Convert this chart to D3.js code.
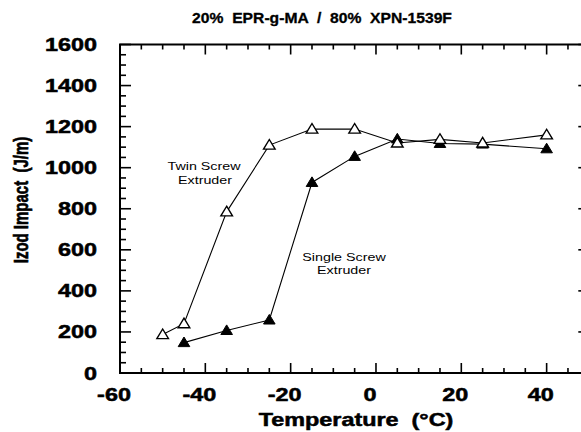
<!DOCTYPE html>
<html>
<head>
<meta charset="utf-8">
<script src="https://cdn.jsdelivr.net/npm/d3@7"></script>
<style>
  html, body { margin: 0; padding: 0; background: #fff; }
  svg { display: block; }
  text { font-family: "Liberation Sans", Arial, Helvetica, sans-serif; fill: #000; white-space: pre; }
  text.heavy { stroke: #000; stroke-width: 0.5; }
</style>
</head>
<body>
<svg id="chart" width="581" height="432"></svg>
<script>
// Izod impact strength vs. temperature for two extrusion routes
const twinTemps    = [-50, -45, -35, -25, -15, -5, 5, 15, 25, 40];
const twinImpact   = [187, 240, 785, 1110, 1188, 1188, 1120, 1138, 1120, 1160];
const singleTemps  = [-45, -35, -25, -15, -5, 5, 15, 25, 40];
const singleImpact = [148, 207, 258, 928, 1055, 1140, 1118, 1115, 1092];

const xMajorTicks = [-60, -40, -20, 0, 20, 40];
const yMajorTicks = [0, 200, 400, 600, 800, 1000, 1200, 1400, 1600];

const titleText  = "20%  EPR-g-MA  /  80%  XPN-1539F";
const xTitleText = "Temperature  (\u00B0C)";
const yTitleText = "Izod Impact  (J/m)";

const svg = d3.select("#chart");
const stretch = 1.3; // lettering is set wide

const plotL = 120, plotR = 589.3, plotT = 44.5, plotB = 373;
const x = d3.scaleLinear().domain([-60, 50]).range([plotL, plotR]);
const y = d3.scaleLinear().domain([0, 1600]).range([plotB, plotT]);

const xMinor = d3.range(-60, 50.001, 5).filter(v => v % 20 !== 0);
const yMinor = d3.range(0, 1600.001, 50).filter(v => v % 200 !== 0);

// frame
svg.append("rect")
  .attr("x", plotL).attr("y", plotT)
  .attr("width", plotR - plotL).attr("height", plotB - plotT)
  .attr("fill", "none").attr("stroke", "#000").attr("stroke-width", 2);

// inward ticks on all four sides
const tickG = svg.append("g").attr("stroke", "#000").attr("stroke-width", 1.6);
function vTicks(vals, len) {
  vals.forEach(v => {
    tickG.append("line").attr("x1", x(v)).attr("x2", x(v)).attr("y1", plotB).attr("y2", plotB - len);
    tickG.append("line").attr("x1", x(v)).attr("x2", x(v)).attr("y1", plotT).attr("y2", plotT + len);
  });
}
function hTicks(vals, len) {
  vals.forEach(v => {
    tickG.append("line").attr("y1", y(v)).attr("y2", y(v)).attr("x1", plotL).attr("x2", plotL + len);
    tickG.append("line").attr("y1", y(v)).attr("y2", y(v)).attr("x1", plotR).attr("x2", plotR - len);
  });
}
vTicks(xMajorTicks.concat([50]), 10);
vTicks(xMinor, 5);
hTicks(yMajorTicks, 11);
hTicks(yMinor, 6);

// horizontally stretched text helper
function wideText(tx, ty, str, size, anchor, weight, sx = stretch) {
  return svg.append("text")
    .attr("class", weight === "bold" ? "heavy" : null)
    .attr("transform", `translate(${tx},${ty}) scale(${sx},1)`)
    .attr("text-anchor", anchor)
    .attr("font-size", size)
    .attr("font-weight", weight)
    .text(str);
}

// tick labels
xMajorTicks.forEach(v => wideText(x(v) - 6, 401, String(v), 18, "middle", "bold"));
yMajorTicks.forEach(v => wideText(97, y(v) + 6.5, String(v), 18, "end", "bold"));

// titles
wideText(322, 23, titleText, 14, "middle", "bold", 1.12).style("stroke-width", 0.3);
wideText(356, 426, xTitleText, 18, "middle", "bold");
svg.append("text")
  .attr("class", "heavy")
  .attr("transform", `translate(28,200) scale(${stretch},1) rotate(-90)`)
  .attr("text-anchor", "middle")
  .attr("font-size", 15)
  .attr("font-weight", "bold")
  .text(yTitleText);

// annotations
wideText(204, 170, "Twin Screw", 11, "middle", "normal");
wideText(205, 183.5, "Extruder", 11, "middle", "normal");
wideText(344, 260.5, "Single Screw", 11, "middle", "normal");
wideText(344, 273.5, "Extruder", 11, "middle", "normal");

// series
const line = d3.line().x(d => x(d[0])).y(d => y(d[1]));
const single = singleTemps.map((t, i) => [t, singleImpact[i]]);
const twin = twinTemps.map((t, i) => [t, twinImpact[i]]);

const tri = "M0,-5.6 L5.8,4 L-5.8,4 Z";

svg.append("path").datum(single).attr("d", line)
  .attr("fill", "none").attr("stroke", "#000").attr("stroke-width", 1.1);
svg.append("path").datum(twin).attr("d", line)
  .attr("fill", "none").attr("stroke", "#000").attr("stroke-width", 1.1);

svg.append("g").selectAll("path").data(single).join("path")
  .attr("transform", d => `translate(${x(d[0])},${y(d[1])})`)
  .attr("d", tri).attr("fill", "#000").attr("stroke", "#000").attr("stroke-width", 1);

svg.append("g").selectAll("path").data(twin).join("path")
  .attr("transform", d => `translate(${x(d[0])},${y(d[1])})`)
  .attr("d", tri).attr("fill", "#fff").attr("stroke", "#000").attr("stroke-width", 1.4);
</script>
</body>
</html>
